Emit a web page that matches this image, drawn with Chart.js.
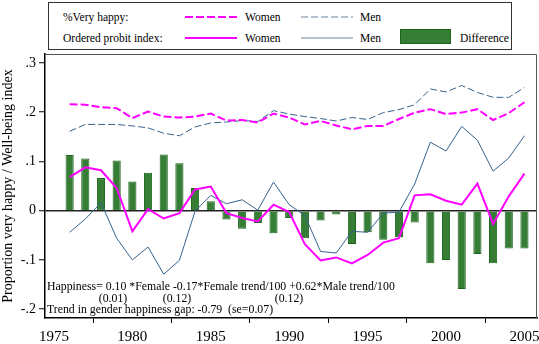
<!DOCTYPE html>
<html>
<head>
<meta charset="utf-8">
<script src="https://cdn.jsdelivr.net/npm/chart.js@4.4.1/dist/chart.umd.min.js"></script>
<style>
  html, body { margin: 0; padding: 0; background: #fff; }
  #wrap { position: relative; width: 539px; height: 344px; font-family: "Liberation Serif", "Times New Roman", serif; color: #000; }
  #c { position: absolute; left: 0; top: 0; }
  #legend { position: absolute; left: 48px; top: 2px; width: 462px; height: 46px; border: 1px solid #333; background: #fff; }
  .lt { position: absolute; font-size: 11.5px; line-height: 12px; white-space: nowrap; transform: translateY(-50%); }
  .sw { position: absolute; }
  .ann { position: absolute; font-size: 11.8px; line-height: 12px; white-space: nowrap; transform: translateY(-50%); }
  .annc { position: absolute; font-size: 11.8px; line-height: 12px; white-space: nowrap; transform: translate(-50%, -50%); }
</style>
</head>
<body>
<div id="wrap">
  <canvas id="c" width="539" height="344"></canvas>
  <div id="legend">
    <div class="lt" style="left:14px; top:14px;">%Very happy:</div>
    <svg class="sw" style="left:136px; top:10px;" width="54" height="8"><line x1="0" y1="4" x2="52" y2="4" stroke="#ff00ff" stroke-width="2" stroke-dasharray="8,3"/></svg>
    <div class="lt" style="left:196px; top:14px;">Women</div>
    <svg class="sw" style="left:252px; top:10px;" width="54" height="8"><line x1="0" y1="4" x2="52" y2="4" stroke="#6d88a3" stroke-width="1.2" stroke-dasharray="7,3"/></svg>
    <div class="lt" style="left:311px; top:14px;">Men</div>

    <div class="lt" style="left:14px; top:35px;">Ordered probit index:</div>
    <svg class="sw" style="left:136px; top:31px;" width="54" height="8"><line x1="0" y1="4" x2="52" y2="4" stroke="#ff00ff" stroke-width="2"/></svg>
    <div class="lt" style="left:196px; top:35px;">Women</div>
    <svg class="sw" style="left:252px; top:31px;" width="54" height="8"><line x1="0" y1="4" x2="52" y2="4" stroke="#6d88a3" stroke-width="1.2"/></svg>
    <div class="lt" style="left:311px; top:35px;">Men</div>
    <div class="sw" style="left:351px; top:26px; width:51px; height:15px; background:#367d36; border:1px solid #1b661b; box-sizing:border-box;"></div>
    <div class="lt" style="left:411px; top:35px;">Difference</div>
  </div>
  <div class="ann" style="left:47px; top:286px;">Happiness= 0.10 *Female -0.17*Female trend/100 +0.62*Male trend/100</div>
  <div class="annc" style="left:113px; top:297.5px;">(0.01)</div>
  <div class="annc" style="left:177px; top:297.5px;">(0.12)</div>
  <div class="annc" style="left:289px; top:297.5px;">(0.12)</div>
  <div class="ann" style="left:47px; top:309px;">Trend in gender happiness gap: -0.79&nbsp; (se=0.07)</div>
</div>
<script>
const years = [1976,1977,1978,1979,1980,1981,1982,1983,1984,1985,1986,1987,1988,1989,1990,
               1991,1992,1993,1994,1995,1996,1997,1998,1999,2000,2001,2002,2003,2004,2005];
const difference = [0.113,0.106,0.066,0.102,0.059,0.077,0.114,0.096,0.046,0.019,-0.018,-0.037,-0.025,-0.046,-0.015,
                    -0.056,-0.020,-0.008,-0.068,-0.044,-0.059,-0.054,-0.024,-0.107,-0.100,-0.159,-0.088,-0.107,-0.077,-0.077];
const womenProbit = [0.068,0.088,0.082,0.046,-0.042,0.003,-0.016,-0.005,0.043,0.049,-0.005,-0.015,-0.022,0.012,-0.003,
                     -0.068,-0.101,-0.095,-0.107,-0.090,-0.065,-0.056,0.031,0.033,0.020,0.012,0.055,-0.027,0.029,0.075];
const menProbit = [-0.044,-0.017,0.016,-0.056,-0.100,-0.074,-0.129,-0.101,-0.001,0.031,0.014,0.022,0.001,0.058,0.012,
                   -0.010,-0.083,-0.086,-0.042,-0.044,-0.005,-0.003,0.054,0.139,0.121,0.171,0.143,0.080,0.107,0.152];
const womenVeryHappy = [0.216,0.215,0.210,0.208,0.188,0.201,0.191,0.189,0.191,0.197,0.183,0.184,0.179,0.197,0.189,
                        0.175,0.182,0.173,0.165,0.172,0.172,0.186,0.199,0.206,0.196,0.199,0.206,0.184,0.198,0.220];
const menVeryHappy = [0.161,0.175,0.175,0.175,0.172,0.168,0.157,0.152,0.170,0.178,0.180,0.183,0.181,0.203,0.196,
                      0.191,0.187,0.182,0.189,0.185,0.199,0.205,0.215,0.247,0.241,0.254,0.240,0.230,0.230,0.250];
const xTickValues = [1975,1980,1985,1990,1995,2000,2005];
const yTickValues = [-0.2,-0.1,0,0.1,0.2,0.3];
const yTickLabels = ['-.2','-.1','0','.1','.2','.3'];
const yAxisTitle = 'Proportion very happy / Well-being index';

const pts = arr => years.map((yr, i) => ({x: yr, y: arr[i]}));
const MAGENTA = '#ff00ff';
const NAVY = '#36628c';
const SERIF = '"Liberation Serif", "Times New Roman", serif';

const frame = {
  id: 'frame',
  afterDatasetsDraw(chart) {
    const a = chart.chartArea, ctx = chart.ctx;
    ctx.save();
    ctx.strokeStyle = '#555';
    ctx.lineWidth = 1;
    ctx.beginPath();
    ctx.moveTo(a.left, a.top + 0.5);
    ctx.lineTo(a.right - 0.5, a.top + 0.5);
    ctx.lineTo(a.right - 0.5, a.bottom);
    ctx.stroke();
    ctx.restore();
  }
};

new Chart(document.getElementById('c'), {
  type: 'bar',
  data: {
    datasets: [
      { type: 'line', label: 'VH Women', data: pts(womenVeryHappy), borderColor: MAGENTA, borderWidth: 2,
        borderDash: [8, 3], pointRadius: 0, tension: 0, order: 1 },
      { type: 'line', label: 'VH Men', data: pts(menVeryHappy), borderColor: NAVY, borderWidth: 1,
        borderDash: [7, 3], pointRadius: 0, tension: 0, order: 1 },
      { type: 'line', label: 'Probit Women', data: pts(womenProbit), borderColor: MAGENTA, borderWidth: 2,
        pointRadius: 0, tension: 0, order: 1 },
      { type: 'line', label: 'Probit Men', data: pts(menProbit), borderColor: NAVY, borderWidth: 1,
        pointRadius: 0, tension: 0, order: 1 },
      { type: 'bar', label: 'Difference', data: pts(difference), backgroundColor: '#367d36',
        borderColor: '#1b661b', borderWidth: 1, barPercentage: 0.52, categoryPercentage: 1, order: 10 }
    ]
  },
  options: {
    responsive: false,
    animation: false,
    layout: { padding: { top: 54, right: 2, left: 0, bottom: 0 } },
    plugins: { legend: { display: false }, tooltip: { enabled: false } },
    scales: {
      x: {
        type: 'linear', min: 1974.43, max: 2005.8, offset: false,
        afterBuildTicks: s => { s.ticks = xTickValues.map(v => ({value: v})); },
        afterFit: s => { s.height = 26; s.paddingLeft = 0; s.paddingRight = 0; },
        ticks: { font: { family: SERIF, size: 15 }, color: '#000', maxRotation: 0, autoSkip: false, padding: 5,
                 callback: v => String(v) },
        grid: { drawOnChartArea: false, tickLength: 5, tickColor: '#000', tickWidth: 1 },
        border: { color: '#000', width: 1.5 }
      },
      y: {
        type: 'linear', min: -0.218, max: 0.318,
        afterBuildTicks: s => { s.ticks = yTickValues.map(v => ({value: v})); },
        afterFit: s => { s.width = 45; s.paddingTop = 0; s.paddingBottom = 0; },
        ticks: { font: { family: SERIF, size: 14 }, color: '#000', padding: 3,
                 callback: (v, i) => yTickLabels[i] },
        grid: { color: c => (c.tick && Math.abs(c.tick.value) < 1e-9) ? '#222' : 'rgba(0,0,0,0)',
                lineWidth: 1.5, tickColor: '#000', tickWidth: 1, tickLength: 6 },
        border: { color: '#000', width: 1.5 },
        title: { display: true, text: yAxisTitle, font: { family: SERIF, size: 14 }, color: '#000', padding: 0 }
      }
    }
  },
  plugins: [frame]
});
</script>
</body>
</html>
